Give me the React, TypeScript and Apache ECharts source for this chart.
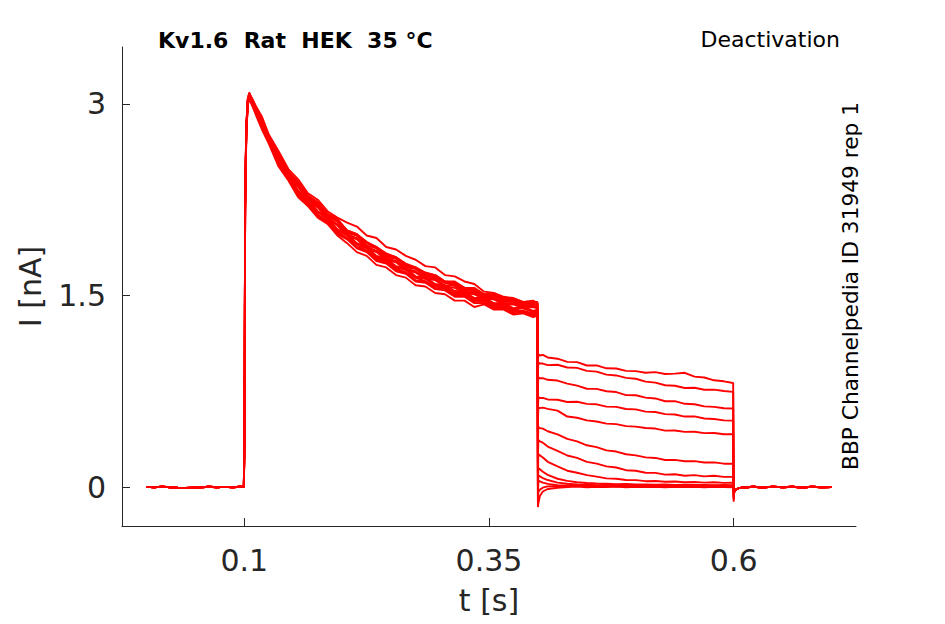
import React, { useEffect, useRef } from "react";
import * as echarts from "echarts";

// ---- data ----
const xTicks = [0.1, 0.35, 0.6];
const yTicks = [0, 1.5, 3];

const preT = [0, 0.008, 0.016, 0.024, 0.032, 0.04, 0.048, 0.056, 0.064, 0.072, 0.08, 0.088, 0.096, 0.0995];
const preI = [0.001, -0.002, 0.003, -0.001, -0.006, -0.008, -0.005, -0.002, 0.002, -0.001, 0.001, -0.002, 0.002, 0.0];

const pulseT = [
  0.1, 0.1003, 0.1008, 0.102, 0.1035, 0.105, 0.108, 0.112, 0.118, 0.125, 0.135, 0.145, 0.155,
  0.165, 0.175, 0.185, 0.195, 0.205, 0.215, 0.225, 0.235, 0.245, 0.255, 0.265, 0.275, 0.285,
  0.295, 0.305, 0.315, 0.325, 0.335, 0.345, 0.355, 0.365, 0.375, 0.385, 0.395, 0.3995,
];

const pulse1 = [0, 0.45, 2.25, 2.82, 3.03, 3.08, 3.04, 2.97, 2.89, 2.75, 2.61, 2.47, 2.38, 2.28, 2.23, 2.14, 2.1, 2.01, 1.98, 1.92, 1.88, 1.83, 1.8, 1.75, 1.72, 1.68, 1.66, 1.61, 1.61, 1.56, 1.56, 1.51, 1.51, 1.48, 1.47, 1.44, 1.45, 1.45];
const pulse2 = [0, 0.6, 2.1, 2.75, 3.0, 3.05, 3.0, 2.93, 2.82, 2.71, 2.54, 2.42, 2.3, 2.23, 2.13, 2.09, 2.0, 1.95, 1.9, 1.85, 1.79, 1.77, 1.71, 1.68, 1.64, 1.61, 1.57, 1.56, 1.51, 1.51, 1.46, 1.46, 1.42, 1.42, 1.38, 1.38, 1.36, 1.37];
const pulse3 = [0, 0.4, 2.3, 2.83, 3.04, 3.09, 3.03, 2.96, 2.87, 2.74, 2.6, 2.45, 2.37, 2.26, 2.21, 2.12, 2.08, 1.99, 1.97, 1.89, 1.87, 1.8, 1.79, 1.72, 1.71, 1.65, 1.64, 1.6, 1.58, 1.54, 1.53, 1.49, 1.49, 1.45, 1.45, 1.42, 1.43, 1.43];
const pulse4 = [0, 0.55, 2.15, 2.77, 3.0, 3.04, 2.99, 2.92, 2.81, 2.7, 2.52, 2.41, 2.28, 2.21, 2.12, 2.07, 1.98, 1.94, 1.87, 1.84, 1.77, 1.75, 1.69, 1.67, 1.61, 1.6, 1.55, 1.54, 1.49, 1.49, 1.44, 1.44, 1.4, 1.4, 1.36, 1.37, 1.34, 1.35];
const pulse5 = [0, 0.5, 2.2, 2.8, 3.03, 3.07, 3.04, 2.98, 2.9, 2.76, 2.63, 2.49, 2.41, 2.3, 2.25, 2.16, 2.11, 2.07, 2.04, 1.97, 1.95, 1.88, 1.86, 1.81, 1.78, 1.73, 1.72, 1.66, 1.65, 1.61, 1.59, 1.53, 1.52, 1.49, 1.48, 1.45, 1.46, 1.44];
const pulse6 = [0, 0.5, 2.2, 2.79, 3.02, 3.06, 3.02, 2.94, 2.85, 2.72, 2.57, 2.44, 2.35, 2.24, 2.19, 2.1, 2.05, 1.97, 1.94, 1.87, 1.84, 1.78, 1.76, 1.7, 1.68, 1.63, 1.62, 1.57, 1.56, 1.52, 1.51, 1.47, 1.47, 1.43, 1.43, 1.4, 1.41, 1.4];
const pulse7 = [0, 0.48, 2.18, 2.78, 3.01, 3.06, 3.01, 2.94, 2.83, 2.72, 2.54, 2.44, 2.31, 2.24, 2.15, 2.1, 2.01, 1.97, 1.9, 1.87, 1.8, 1.78, 1.72, 1.7, 1.64, 1.63, 1.58, 1.57, 1.52, 1.52, 1.47, 1.47, 1.43, 1.43, 1.39, 1.4, 1.37, 1.38];
const pulse8 = [0, 0.52, 2.22, 2.81, 3.03, 3.08, 3.03, 2.96, 2.88, 2.74, 2.61, 2.46, 2.38, 2.27, 2.22, 2.13, 2.09, 2.0, 1.97, 1.91, 1.87, 1.81, 1.79, 1.73, 1.71, 1.66, 1.65, 1.6, 1.59, 1.55, 1.54, 1.5, 1.5, 1.46, 1.46, 1.43, 1.44, 1.42];
const pulse9 = [0, 0.47, 2.17, 2.77, 2.99, 3.04, 2.99, 2.91, 2.8, 2.69, 2.51, 2.4, 2.27, 2.2, 2.11, 2.06, 1.97, 1.91, 1.84, 1.81, 1.74, 1.72, 1.66, 1.64, 1.58, 1.57, 1.52, 1.51, 1.46, 1.46, 1.41, 1.43, 1.39, 1.39, 1.35, 1.36, 1.33, 1.34];
const pulse10 = [0, 0.5, 2.2, 2.8, 3.02, 3.07, 3.02, 2.95, 2.87, 2.72, 2.59, 2.45, 2.36, 2.25, 2.2, 2.11, 2.06, 1.98, 1.95, 1.88, 1.85, 1.79, 1.77, 1.71, 1.69, 1.64, 1.63, 1.58, 1.575, 1.53, 1.52, 1.48, 1.48, 1.44, 1.44, 1.41, 1.42, 1.41];
const pulse11 = [0, 0.5, 2.2, 2.79, 3.01, 3.05, 3.0, 2.93, 2.82, 2.71, 2.53, 2.42, 2.29, 2.22, 2.13, 2.08, 1.99, 1.95, 1.88, 1.85, 1.78, 1.76, 1.7, 1.68, 1.62, 1.61, 1.56, 1.55, 1.5, 1.5, 1.45, 1.45, 1.41, 1.41, 1.37, 1.38, 1.35, 1.36];
const pulse12 = [0, 0.5, 2.2, 2.81, 3.04, 3.08, 3.04, 2.97, 2.88, 2.75, 2.61, 2.47, 2.39, 2.28, 2.23, 2.14, 2.09, 2.01, 1.98, 1.91, 1.88, 1.82, 1.8, 1.74, 1.72, 1.67, 1.66, 1.61, 1.6, 1.56, 1.55, 1.51, 1.51, 1.47, 1.47, 1.44, 1.45, 1.44];
const pulse13 = [0, 0.5, 2.2, 2.8, 3.02, 3.06, 3.01, 2.94, 2.83, 2.73, 2.55, 2.45, 2.32, 2.25, 2.16, 2.11, 2.02, 1.98, 1.91, 1.88, 1.81, 1.79, 1.73, 1.71, 1.65, 1.64, 1.59, 1.58, 1.535, 1.53, 1.48, 1.48, 1.44, 1.44, 1.4, 1.41, 1.38, 1.39];

const tailT = [
  0.4, 0.4004, 0.402, 0.405, 0.41, 0.42, 0.43, 0.44, 0.45, 0.46, 0.47, 0.48, 0.49, 0.5, 0.51,
  0.52, 0.53, 0.54, 0.55, 0.56, 0.57, 0.58, 0.59, 0.5995,
];

const tail1 = [0.98, 1.04, 1.03, 1.035, 1.015, 1.005, 0.98, 0.978, 0.952, 0.953, 0.93, 0.928, 0.91, 0.908, 0.895, 0.9, 0.885, 0.888, 0.895, 0.865, 0.858, 0.836, 0.828, 0.815];
const tail2 = [0.9, 0.975, 0.968, 0.967, 0.955, 0.958, 0.936, 0.933, 0.91, 0.904, 0.88, 0.874, 0.855, 0.848, 0.826, 0.818, 0.797, 0.793, 0.776, 0.778, 0.762, 0.763, 0.752, 0.745];
const tail3 = [0.78, 0.86, 0.852, 0.853, 0.84, 0.834, 0.81, 0.794, 0.77, 0.769, 0.75, 0.744, 0.72, 0.719, 0.7, 0.694, 0.672, 0.673, 0.652, 0.648, 0.632, 0.628, 0.617, 0.615];
const tail4 = [0.6, 0.705, 0.697, 0.698, 0.686, 0.684, 0.666, 0.668, 0.651, 0.648, 0.63, 0.628, 0.611, 0.608, 0.591, 0.588, 0.571, 0.568, 0.552, 0.553, 0.537, 0.533, 0.522, 0.52];
const tail5 = [0.52, 0.625, 0.618, 0.622, 0.612, 0.598, 0.552, 0.543, 0.522, 0.513, 0.497, 0.493, 0.477, 0.473, 0.462, 0.458, 0.442, 0.443, 0.432, 0.433, 0.422, 0.423, 0.413, 0.413];
const tail6 = [0.35, 0.47, 0.462, 0.457, 0.437, 0.413, 0.377, 0.358, 0.327, 0.313, 0.287, 0.278, 0.257, 0.248, 0.232, 0.228, 0.212, 0.213, 0.202, 0.203, 0.192, 0.193, 0.183, 0.182];
const tail7 = [0.22, 0.37, 0.357, 0.347, 0.317, 0.283, 0.247, 0.228, 0.197, 0.183, 0.162, 0.153, 0.132, 0.128, 0.112, 0.111, 0.097, 0.1, 0.089, 0.093, 0.084, 0.088, 0.08, 0.08];
const tail8 = [0.1, 0.26, 0.248, 0.232, 0.198, 0.162, 0.128, 0.112, 0.093, 0.082, 0.068, 0.065, 0.055, 0.054, 0.046, 0.047, 0.041, 0.043, 0.038, 0.04, 0.035, 0.038, 0.033, 0.034];
const tail9 = [0.0, 0.15, 0.14, 0.12, 0.095, 0.065, 0.048, 0.038, 0.032, 0.028, 0.026, 0.022, 0.024, 0.02, 0.021, 0.018, 0.02, 0.017, 0.018, 0.016, 0.017, 0.015, 0.016, 0.015];
const tail10 = [-0.05, 0.09, 0.085, 0.07, 0.055, 0.035, 0.026, 0.02, 0.018, 0.014, 0.016, 0.012, 0.013, 0.01, 0.012, 0.009, 0.011, 0.008, 0.01, 0.009, 0.008, 0.01, 0.007, 0.008];
const tail11 = [-0.08, 0.05, 0.045, 0.035, 0.025, 0.015, 0.012, 0.008, 0.01, 0.006, 0.009, 0.005, 0.007, 0.004, 0.006, 0.005, 0.003, 0.006, 0.004, 0.005, 0.003, 0.004, 0.002, 0.004];
const tail12 = [-0.11, -0.04, -0.02, -0.005, 0.005, 0.008, 0.006, 0.01, 0.005, 0.008, 0.004, 0.007, 0.003, 0.006, 0.004, 0.002, 0.005, 0.003, 0.004, 0.002, 0.003, 0.001, 0.003, 0.002];
const tail13 = [-0.157, -0.13, -0.07, -0.035, -0.015, -0.005, 0.0, 0.003, -0.002, 0.002, 0.0, 0.003, -0.001, 0.002, 0.0, 0.002, -0.002, 0.001, 0.0, 0.002, -0.001, 0.001, 0.0, -0.002];

const postT = [0.6, 0.6004, 0.602, 0.605, 0.61, 0.62, 0.63, 0.64, 0.65, 0.66, 0.67, 0.68, 0.69, 0.7];
const postDip = [-0.115, -0.1, -0.09, -0.08, -0.07, -0.05, -0.04, -0.03, -0.02, -0.01, -0.01, 0.0, 0.0];
const postI = [-0.04, -0.02, -0.008, -0.003, 0.002, -0.003, 0.003, -0.002, 0.002, -0.003, 0.002, -0.001, 0.0];

const pulses = [pulse1, pulse2, pulse3, pulse4, pulse5, pulse6, pulse7, pulse8, pulse9, pulse10, pulse11, pulse12, pulse13];
const tails = [tail1, tail2, tail3, tail4, tail5, tail6, tail7, tail8, tail9, tail10, tail11, tail12, tail13];

function sweep(k: number): [number, number][] {
  const pts: [number, number][] = [];
  preT.forEach((t, i) => pts.push([t, preI[i]]));
  pulseT.forEach((t, i) => pts.push([t, pulses[k][i]]));
  tailT.forEach((t, i) => pts.push([t, tails[k][i]]));
  pts.push([postT[0], postDip[k]]);
  for (let i = 1; i < postT.length; i++) pts.push([postT[i], postI[i - 1]]);
  return pts;
}

const AXIS_COLOR = "#262626";
const FONT = "DejaVu Sans";

export default function App() {
  const ref = useRef<HTMLDivElement>(null);
  useEffect(() => {
    if (!ref.current) return;
    const chart = echarts.init(ref.current, undefined, { renderer: "svg" });
    const series = pulses.map((_, k) => ({
      type: "line",
      data: sweep(k),
      showSymbol: false,
      symbol: "none",
      lineStyle: { color: "#ff0000", width: 1.9 },
      itemStyle: { color: "#ff0000" },
      silent: true,
    }));
    chart.setOption({
      animation: false,
      backgroundColor: "#ffffff",
      grid: { left: 122, right: 89, top: 47, bottom: 98, containLabel: false },
      xAxis: {
        type: "value",
        min: -0.025,
        max: 0.725,
        name: "t [s]",
        nameLocation: "middle",
        nameGap: 59,
        nameTextStyle: { color: AXIS_COLOR, fontSize: 30, fontFamily: FONT },
        axisLine: { show: true, onZero: false, lineStyle: { color: AXIS_COLOR, width: 1 } },
        axisTick: { show: true, inside: true, length: 8, customValues: xTicks, lineStyle: { color: AXIS_COLOR } },
        axisLabel: { customValues: xTicks, color: AXIS_COLOR, fontSize: 30, fontFamily: FONT, margin: 19 },
        splitLine: { show: false },
      },
      yAxis: {
        type: "value",
        min: -0.305,
        max: 3.446,
        name: "I [nA]",
        nameLocation: "middle",
        nameGap: 77,
        nameRotate: 90,
        nameTextStyle: { color: AXIS_COLOR, fontSize: 30, fontFamily: FONT },
        axisLine: { show: true, onZero: false, lineStyle: { color: AXIS_COLOR, width: 1 } },
        axisTick: { show: true, inside: true, length: 8, customValues: yTicks, lineStyle: { color: AXIS_COLOR } },
        axisLabel: { customValues: yTicks, color: AXIS_COLOR, fontSize: 30, fontFamily: FONT, margin: 16 },
        splitLine: { show: false },
      },
      graphic: [
        {
          type: "text",
          x: 158,
          y: 40,
          style: {
            text: "Kv1.6  Rat  HEK  35 °C",
            fontSize: 22,
            fontWeight: "bold",
            fontFamily: FONT,
            fill: "#000000",
            align: "left",
            verticalAlign: "middle",
          },
        },
        {
          type: "text",
          x: 840,
          y: 39,
          style: {
            text: "Deactivation",
            fontSize: 22,
            fontFamily: FONT,
            fill: "#000000",
            align: "right",
            verticalAlign: "middle",
          },
        },
        {
          type: "text",
          x: 850,
          y: 286,
          rotation: Math.PI / 2,
          style: {
            text: "BBP Channelpedia ID 31949 rep 1",
            fontSize: 21.7,
            fontFamily: FONT,
            fill: "#000000",
            align: "center",
            verticalAlign: "middle",
          },
        },
      ],
      series,
    });
    return () => chart.dispose();
  }, []);
  return (
    <div
      ref={ref}
      style={{ position: "fixed", left: 0, top: 0, width: 945, height: 624, background: "#fff" }}
    />
  );
}
